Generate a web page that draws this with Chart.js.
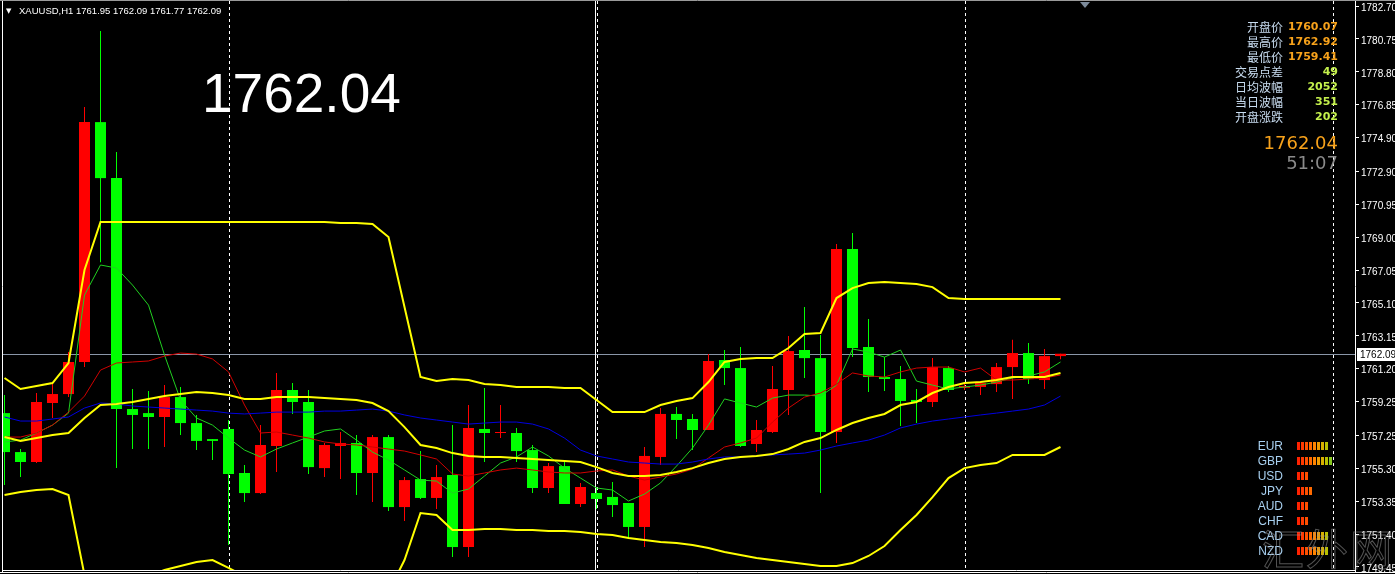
<!DOCTYPE html>
<html><head><meta charset="utf-8">
<script src="https://cdn.jsdelivr.net/npm/chart.js@4.4.0/dist/chart.umd.min.js"></script>
<style>
html,body{margin:0;padding:0;background:#000;overflow:hidden}
#wrap{position:relative;width:1395px;height:574px;background:#000}
canvas{position:absolute;left:0;top:0}
.t{position:absolute;white-space:nowrap}
</style></head><body>
<div id="wrap"><canvas id="c" width="1395" height="574"></canvas></div>
<script>
// ---------- DATA ----------
const symbolTitle = 'XAUUSD,H1';
const headerOHLC = ['1761.95','1762.09','1761.77','1762.09'];
const bigPrice = '1762.04';
const currentPrice = 1762.09;
const tickLabels = ['1782.70','1780.75','1778.80','1776.85','1774.90','1772.90','1770.95','1769.00','1767.05','1765.10','1763.15','1761.20','1759.25','1757.25','1755.30','1753.35','1751.40','1749.45'];
const daySeparators = [14, 37, 60, 83];

const opens = [1758.57,1756.26,1755.67,1759.17,1759.70,1761.60,1775.82,1772.50,1758.81,1758.57,
1758.34,1759.52,1757.98,1757.03,1757.63,1755.02,1753.83,1756.62,1759.94,1759.23,
1755.31,1756.62,1756.80,1755.02,1757.15,1753.00,1754.66,1753.54,1754.90,1750.63,
1757.63,1757.39,1757.39,1756.38,1754.13,1755.43,1753.18,1753.83,1753.60,1753.24,
1751.82,1755.97,1758.52,1758.22,1757.57,1761.72,1761.24,1756.74,1757.45,1759.94,
1762.31,1761.83,1757.45,1768.30,1762.49,1760.71,1760.59,1759.35,1759.23,1761.24,
1760.07,1760.12,1760.29,1761.30,1762.13,1760.53,1761.95];
const highs = [1759.64,1756.44,1759.76,1760.35,1762.19,1776.71,1781.22,1774.05,1760.00,1759.88,
1760.23,1760.12,1758.46,1757.03,1758.16,1755.49,1757.86,1760.95,1760.35,1759.94,
1756.80,1757.45,1757.27,1757.27,1757.27,1754.78,1756.32,1755.49,1757.86,1759.05,
1760.06,1759.05,1757.69,1756.68,1755.61,1755.67,1754.43,1754.19,1754.48,1753.24,
1756.56,1758.87,1758.93,1758.52,1762.07,1762.31,1762.49,1758.16,1761.36,1763.14,
1764.86,1763.20,1768.59,1769.25,1764.15,1761.89,1761.36,1760.00,1761.83,1761.36,
1760.29,1760.35,1761.54,1762.92,1762.72,1762.37,1762.09];
const lows = [1754.31,1754.78,1755.61,1758.28,1759.52,1761.30,1767.52,1755.31,1756.44,1756.44,
1756.56,1757.27,1756.38,1755.79,1750.75,1753.30,1753.77,1755.08,1758.52,1754.96,
1754.78,1754.66,1753.71,1753.30,1752.77,1752.17,1753.48,1752.88,1750.04,1750.04,
1755.67,1757.09,1755.67,1753.83,1753.83,1753.18,1753.00,1752.88,1752.41,1751.11,
1750.63,1755.49,1757.03,1756.38,1757.57,1760.23,1756.56,1756.26,1757.39,1758.46,
1760.65,1753.83,1756.80,1761.89,1759.82,1759.88,1757.80,1757.98,1758.93,1759.82,
1759.94,1759.64,1759.82,1759.41,1760.29,1760.00,1761.77];
const closes = [1756.26,1755.67,1759.23,1759.70,1761.60,1775.82,1772.50,1758.81,1758.46,1758.34,
1759.52,1757.98,1756.92,1756.92,1754.96,1753.83,1756.68,1759.94,1759.23,1755.37,
1756.68,1756.80,1755.02,1757.15,1753.00,1754.60,1753.54,1754.78,1750.63,1757.69,
1757.39,1757.45,1756.32,1754.13,1755.43,1753.18,1754.19,1753.48,1753.12,1751.82,
1756.03,1758.52,1758.16,1757.57,1761.66,1761.24,1756.62,1757.57,1760.00,1762.25,
1761.83,1757.45,1768.30,1762.43,1760.71,1760.59,1759.29,1759.23,1761.30,1759.94,
1760.18,1760.35,1761.30,1762.13,1760.59,1761.95,1762.09];

const upperBand = [1760.65,1760.00,1760.18,1760.35,1761.54,1767.05,1769.90,1769.90,1769.90,1769.90,
1769.90,1769.90,1769.90,1769.90,1769.90,1769.90,1769.90,1769.90,1769.90,1769.90,
1769.90,1769.84,1769.84,1769.78,1769.01,1764.86,1760.71,1760.47,1760.59,1760.53,
1760.29,1760.23,1760.12,1760.12,1760.12,1760.06,1760.06,1759.35,1758.63,1758.63,
1758.63,1759.05,1759.29,1759.46,1760.41,1761.60,1761.78,1761.83,1761.83,1762.43,
1763.26,1763.32,1765.39,1765.98,1766.28,1766.34,1766.28,1766.22,1766.04,1765.39,
1765.33,1765.33,1765.33,1765.33,1765.33,1765.33,1765.33];
const middleBand = [1757.15,1756.92,1757.09,1757.27,1757.39,1758.28,1759.05,1759.11,1759.23,1759.41,
1759.58,1759.70,1759.82,1759.76,1759.64,1759.41,1759.41,1759.52,1759.52,1759.52,
1759.46,1759.41,1759.35,1759.17,1758.69,1757.74,1756.68,1756.50,1756.20,1756.03,
1755.97,1755.97,1755.91,1755.85,1755.79,1755.73,1755.67,1755.37,1755.02,1754.84,
1754.84,1754.90,1755.08,1755.31,1755.61,1755.85,1755.97,1756.03,1756.14,1756.44,
1756.86,1757.09,1757.57,1757.98,1758.28,1758.52,1759.05,1759.23,1759.76,1760.12,
1760.35,1760.41,1760.53,1760.71,1760.71,1760.71,1760.95];
const lowerBand = [1753.71,1753.89,1754.01,1754.07,1753.71,1748.97,1748.08,1748.32,1748.56,1748.91,
1749.27,1749.51,1749.74,1749.86,1749.39,1748.91,1748.91,1749.15,1749.15,1749.15,
1749.03,1748.97,1748.85,1748.56,1747.96,1749.86,1752.65,1752.53,1751.64,1751.64,
1751.70,1751.70,1751.64,1751.64,1751.58,1751.58,1751.52,1751.40,1751.34,1751.16,
1751.05,1750.93,1750.87,1750.75,1750.57,1750.34,1750.16,1749.98,1749.86,1749.74,
1749.62,1749.51,1749.51,1749.68,1750.10,1750.69,1751.64,1752.53,1753.59,1754.72,
1755.31,1755.49,1755.61,1756.09,1756.09,1756.09,1756.56];
const maSlow = [1758.34,1758.10,1758.10,1758.22,1758.34,1758.87,1759.17,1759.11,1758.99,1758.93,
1758.87,1758.81,1758.75,1758.69,1758.57,1758.52,1758.57,1758.63,1758.63,1758.63,
1758.69,1758.69,1758.75,1758.81,1758.69,1758.46,1758.28,1758.16,1758.04,1757.92,
1757.98,1758.04,1758.04,1757.92,1757.63,1757.09,1756.38,1756.03,1755.85,1755.67,
1755.61,1755.55,1755.55,1755.67,1755.85,1755.97,1755.97,1756.03,1756.09,1756.14,
1756.20,1756.38,1756.62,1756.80,1756.97,1757.27,1757.69,1757.92,1758.10,1758.22,
1758.34,1758.46,1758.57,1758.69,1758.81,1759.05,1759.58];
const maMid = [1757.15,1757.15,1757.39,1757.86,1758.63,1759.58,1761.12,1761.54,1761.60,1761.66,
1761.95,1762.13,1762.07,1761.78,1761.01,1759.05,1757.39,1757.45,1757.27,1757.09,
1756.86,1756.74,1756.68,1756.56,1756.44,1756.32,1756.09,1755.85,1754.96,1754.84,
1755.02,1755.20,1755.31,1755.20,1755.08,1755.02,1755.02,1755.14,1755.20,1754.84,
1754.60,1754.78,1754.96,1755.25,1755.91,1756.56,1756.80,1757.09,1758.04,1758.87,
1759.52,1759.76,1760.29,1760.95,1760.77,1760.71,1761.01,1761.24,1761.30,1761.30,
1761.01,1761.24,1760.53,1760.53,1760.59,1760.65,1760.83];
const maFast = [1756.86,1756.97,1757.39,1757.86,1758.57,1765.57,1767.35,1767.17,1766.16,1764.97,
1762.01,1759.35,1758.28,1757.86,1757.09,1756.38,1755.97,1756.44,1756.80,1757.15,
1757.51,1757.63,1756.97,1756.26,1755.79,1755.20,1754.60,1754.54,1753.83,1754.07,
1754.84,1755.61,1755.97,1756.56,1756.03,1755.31,1754.72,1754.13,1754.01,1753.36,
1753.77,1754.43,1755.43,1756.50,1757.86,1759.41,1759.17,1758.93,1759.46,1759.64,
1759.64,1759.58,1760.23,1762.37,1762.19,1761.89,1762.31,1760.47,1760.23,1760.00,
1760.12,1760.23,1760.41,1760.65,1760.77,1761.01,1761.60];

const infoLabels = ['开盘价','最高价','最低价','交易点差','日均波幅','当日波幅','开盘涨跌'];
const infoValues = ['1760.07','1762.92','1759.41','49','2052','351','202'];
const countdown = '51:07';
const currencies = ['EUR','GBP','USD','JPY','AUD','CHF','CAD','NZD'];
const strength = [8,9,3,4,3,3,8,8];
const watermark = '汇外网';

// ---------- STYLE ----------
const RED = '#ff0000', GREEN = '#00ff00';
const candleColors = opens.map((o,i)=> closes[i] >= o ? RED : GREEN);
const xy = arr => arr.map((v,i)=>({x:i, y:v}));
const line = (arr, color, w) => ({type:'line', data:xy(arr), borderColor:color, borderWidth:w, pointRadius:0, tension:0, fill:false, order:0});

const tickValues = tickLabels.map(Number);

const deco = {
  id:'deco',
  beforeDatasetsDraw(chart){
    const {ctx, chartArea:a, scales:{x,y}} = chart;
    ctx.save();
    const py = Math.round(y.getPixelForValue(currentPrice)) + 0.5;
    ctx.strokeStyle = '#8a96a8'; ctx.lineWidth = 1;
    ctx.beginPath(); ctx.moveTo(a.left, py); ctx.lineTo(a.right, py); ctx.stroke();
    ctx.strokeStyle = '#ffffff';
    daySeparators.forEach((s, idx) => {
      const px = Math.round(x.getPixelForValue(s)) + 0.5;
      ctx.setLineDash([3,3]);
      ctx.beginPath(); ctx.moveTo(px, a.top); ctx.lineTo(px, a.bottom); ctx.stroke();
      if (idx === 1) {
        ctx.setLineDash([]);
        ctx.beginPath(); ctx.moveTo(px-2, a.top); ctx.lineTo(px-2, a.bottom); ctx.stroke();
      }
    });
    ctx.restore();
  },
  afterDraw(chart){
    const {ctx, chartArea:a, scales:{y}} = chart;
    ctx.save();
    ctx.strokeStyle = '#ffffff'; ctx.lineWidth = 1;
    ctx.beginPath();
    ctx.moveTo(a.left - 0.5, a.top - 0.5); ctx.lineTo(a.left - 0.5, a.bottom + 2);
    ctx.moveTo(a.left - 1, a.bottom - 0.5); ctx.lineTo(a.right, a.bottom - 0.5);
    ctx.moveTo(0, a.bottom + 1.5); ctx.lineTo(1395, a.bottom + 1.5);
    ctx.stroke();
    ctx.strokeStyle = '#9a9a9a';
    ctx.beginPath(); ctx.moveTo(0, 0.5); ctx.lineTo(1395, 0.5); ctx.stroke();
    ctx.fillStyle = '#7c8a9a';
    ctx.beginPath(); ctx.moveTo(1080, 2); ctx.lineTo(1090, 2); ctx.lineTo(1085, 8); ctx.closePath(); ctx.fill();
    const py = Math.round(y.getPixelForValue(currentPrice));
    ctx.fillStyle = '#ffffff';
    ctx.fillRect(a.right + 2, py - 6, 40, 13);
    ctx.fillStyle = '#000000';
    ctx.font = '10px "Liberation Sans"';
    ctx.textBaseline = 'middle';
    ctx.fillText(currentPrice.toFixed(2), a.right + 5, py + 1);
    ctx.restore();
  }
};

new Chart(document.getElementById('c'), {
  type:'bar',
  data:{datasets:[
    line(upperBand, '#ffff00', 2),
    line(middleBand, '#ffff00', 2),
    line(lowerBand, '#ffff00', 2),
    line(maSlow, '#0000e0', 1),
    line(maMid, '#d00000', 1),
    line(maFast, '#20d020', 1),
    {type:'bar', data: lows.map((l,i)=>({x:i, y:[l, highs[i]]})), backgroundColor:candleColors, barThickness:1, grouped:false, inflateAmount:0, borderWidth:0, order:2},
    {type:'bar', data: opens.map((o,i)=>({x:i, y:[o, closes[i]]})), backgroundColor:candleColors, barThickness:11, grouped:false, inflateAmount:0, borderWidth:0, minBarLength:1, order:1}
  ]},
  options:{
    responsive:false, animation:false, devicePixelRatio:1,
    layout:{padding:{left:3, top:1, bottom:3, right:0}},
    plugins:{legend:{display:false}, tooltip:{enabled:false}},
    scales:{
      x:{type:'linear', display:false, min:-0.09375, max:84.40625, offset:false},
      y:{position:'right', min:1749.21, max:1783.00,
         afterFit(s){ s.width = 40; s.paddingTop = 0; s.paddingBottom = 0; },
         afterBuildTicks(s){ s.ticks = tickValues.map(v=>({value:v})); },
         ticks:{autoSkip:false, color:'#ffffff', padding:2, labelOffset:2, font:{size:10, family:'Liberation Sans'},
                callback:(v,i)=>tickLabels[i]},
         grid:{drawOnChartArea:false, color:'#ffffff', tickLength:4},
         border:{display:true, color:'#ffffff'}
      }
    }
  },
  plugins:[deco]
});

// ---------- TEXT OVERLAYS ----------
const wrap = document.getElementById('wrap');
function txt(s, css){ const d=document.createElement('div'); d.className='t'; d.textContent=s; d.style.cssText += css; wrap.appendChild(d); return d; }
txt('▼', 'left:6px;top:6px;font:7px "DejaVu Sans";color:#fff;line-height:10px');
txt(symbolTitle + '  ' + headerOHLC.join(' '), 'left:19px;top:5px;font:9.5px "Liberation Sans";color:#fff;line-height:12px');
txt(bigPrice, 'left:202px;top:66px;font:55px "Liberation Sans";color:#fff;line-height:55px');
infoLabels.forEach((l,i)=>{
  const cy = 27 + 15*i;
  txt(l, `right:112px;top:${cy-8}px;font:12px "Noto Sans CJK SC";color:#c8dcf0;line-height:16px`);
  txt(infoValues[i], `right:57px;top:${cy-8}px;font:bold 11px "DejaVu Sans";color:${i<3?'#f7a21b':'#c4f04c'};line-height:16px`);
});
txt(bigPrice, 'right:57px;top:132px;font:18px "DejaVu Sans";color:#f7a21b;line-height:22px');
txt(countdown, 'right:57px;top:152px;font:18px "DejaVu Sans";color:#8a8a8a;line-height:22px');
const barColors = ['#ff2200','#ff3a00','#ff5000','#ff6a00','#ff8400','#f09c00','#d8b000','#b8c000','#88c820'];
currencies.forEach((c,i)=>{
  const cy = 446 + 15*i;
  txt(c, `right:112px;top:${cy-8}px;font:12px "Liberation Sans";color:#a8d0f0;line-height:16px`);
  for(let k=0;k<strength[i];k++){
    const b=document.createElement('div');
    b.style.cssText=`position:absolute;left:${1297+4*k}px;top:${cy-4}px;width:3px;height:8px;background:${barColors[k]}`;
    wrap.appendChild(b);
  }
});
txt(watermark, 'left:1262px;top:522px;font:42px "Noto Sans CJK SC";color:transparent;-webkit-text-stroke:1px rgba(150,150,150,0.55);line-height:50px;letter-spacing:2px');
</script>
</body></html>
